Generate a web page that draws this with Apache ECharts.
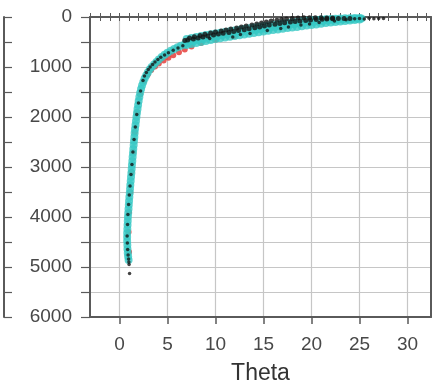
<!DOCTYPE html>
<html>
<head>
<meta charset="utf-8">
<script src="https://cdn.jsdelivr.net/npm/echarts@6/dist/echarts.min.js"></script>
<style>
  html, body { margin: 0; padding: 0; background: #fff; }
  #chart { width: 432px; height: 383px; }
</style>
</head>
<body>
<div id="chart"></div>
<script>
// Axis ranges and tick labels
const thetaMin = -3.07;
const thetaMax = 32.45;
const thetaLabels = [0, 5, 10, 15, 20, 25, 30];
const thetaMinorTicks = [-3, -2, -1, 0, 1, 2, 3, 4, 5, 6, 7, 8, 9, 10, 11, 12, 13, 14, 15, 16, 17, 18, 19, 20, 21, 22, 23, 24, 25, 26, 27, 28, 29, 30, 31, 32];
const depthLabels = [0, 1000, 2000, 3000, 4000, 5000, 6000];
const xName = 'Theta';

// Profile samples as [theta, depth]
const redProfile = [
  [1.0, 4700], [0.95, 4300], [1.0, 3900], [1.12, 3500], [1.25, 3100], [1.42, 2700],
  [1.6, 2300], [1.85, 1900], [2.15, 1550], [2.55, 1280], [2.95, 1150],
  [3.3, 1060], [3.7, 990], [4.1, 930], [4.6, 870], [5.1, 815], [5.6, 765],
  [6.2, 705], [6.8, 650], [7.5, 590], [8.5, 520], [10, 450], [12, 380]
];

const cyanProfile = [
  [0.95, 4860], [0.9, 4790], [0.86, 4720], [0.83, 4640], [0.82, 4560], [0.8, 4480],
  [0.8, 4400], [0.8, 4320], [0.82, 4240], [0.84, 4160], [0.86, 4080], [0.88, 4000],
  [0.91, 3920], [0.94, 3840], [0.97, 3760], [1.0, 3680], [1.03, 3600], [1.07, 3520],
  [1.1, 3440], [1.13, 3360], [1.17, 3280], [1.2, 3200], [1.24, 3120], [1.27, 3040],
  [1.3, 2960], [1.34, 2880], [1.37, 2800], [1.41, 2720], [1.44, 2640], [1.48, 2560],
  [1.51, 2480], [1.55, 2400], [1.58, 2320], [1.62, 2240], [1.67, 2160], [1.72, 2080],
  [1.77, 2000], [1.82, 1920], [1.88, 1840], [1.94, 1760], [2.0, 1680], [2.07, 1600],
  [2.15, 1520], [2.25, 1440], [2.35, 1370], [2.48, 1300], [2.62, 1230], [2.78, 1170],
  [2.95, 1110], [3.15, 1050], [3.35, 1000], [3.6, 950], [3.85, 900], [4.1, 850],
  [4.4, 800], [4.7, 755], [5.0, 715], [5.35, 675], [5.7, 640], [6.05, 605],
  [6.4, 575], [6.8, 545],
  // upper edge of the shallow branch
  [7, 440], [7.5, 420], [8, 400], [8.5, 380], [9, 360], [9.5, 345], [10, 330], [10.5, 315],
  [11, 300], [11.5, 285], [12, 270], [12.5, 255], [13, 240], [13.5, 225], [14, 210],
  [14.5, 195], [15, 180], [15.5, 168], [16, 155], [16.5, 142], [17, 130], [17.5, 118],
  [18, 105], [18.5, 95], [19, 85], [19.5, 75], [20, 65], [20.5, 58], [21, 50], [21.5, 44],
  [22, 38], [22.5, 34], [23, 30], [23.5, 27], [24, 25], [24.5, 22], [25, 20],
  // middle of the shallow branch
  [7.2, 510], [7.7, 485], [8.2, 460], [8.7, 440], [9.2, 420], [9.7, 400], [10.2, 385],
  [10.7, 365], [11.2, 350], [11.7, 335], [12.2, 320], [12.7, 305], [13.2, 290],
  [13.7, 272], [14.2, 258], [14.7, 240], [15.2, 228], [15.7, 212], [16.2, 200],
  [16.7, 185], [17.2, 172], [17.7, 158], [18.2, 145], [18.7, 132], [19.2, 120],
  [19.7, 108], [20.2, 98], [20.7, 88], [21.2, 80], [21.7, 70], [22.2, 62], [22.7, 55],
  [23.2, 48], [23.7, 42], [24.2, 38], [24.7, 34], [25.2, 30],
  // lower edge of the shallow branch
  [7, 560], [7.5, 540], [8, 520], [8.5, 500], [9, 480], [9.5, 460], [10, 440], [10.5, 425],
  [11, 410], [11.5, 395], [12, 380], [12.5, 365], [13, 350], [13.5, 335], [14, 320],
  [14.5, 305], [15, 290], [15.5, 275], [16, 260], [16.5, 248], [17, 235], [17.5, 222],
  [18, 210], [18.5, 198], [19, 185], [19.5, 172], [20, 160], [20.5, 148], [21, 135],
  [21.5, 122], [22, 110], [22.5, 100], [23, 90], [23.5, 80], [24, 70], [24.5, 60], [25, 50]
];

// Black samples along the deep limb (fine dots)
const blackDeep = [
  [1.05, 5130], [1.0, 4950], [0.98, 4900], [0.95, 4840], [0.9, 4760], [0.85, 4650],
  [0.82, 4520], [0.8, 4380], [0.84, 4150], [0.88, 3950], [0.95, 3750], [1.02, 3560],
  [1.1, 3380], [1.2, 3150], [1.3, 2950], [1.4, 2700], [1.52, 2450], [1.65, 2200],
  [1.8, 1950], [1.98, 1720], [2.2, 1480],
  [2.45, 1270], [2.6, 1180], [2.8, 1110], [3.0, 1050], [3.2, 1000], [3.45, 950],
  [3.7, 900], [4.0, 850], [4.3, 805], [4.7, 760], [5.1, 715], [5.6, 665], [6.1, 620],
  [6.6, 575],
  // scattered dots inside the shallow branch
  [11.8, 400], [13.6, 330], [15.4, 270], [16.8, 230], [18.9, 160], [20.8, 110],
  [22.4, 80], [23.6, 55], [9.4, 430], [12.6, 350], [17.6, 200], [19.8, 140],
  // shallow tail
  [24.5, 35], [25, 30], [25.5, 40], [26, 25], [26.5, 35], [27, 30], [27.5, 28]
];

// Black samples along the upper edge of the shallow branch (coarser dots)
const blackShallow = [
  [6.8, 470], [7.3, 420], [7.8, 395], [8.4, 372], [8.9, 345], [9.5, 318], [10, 298],
  [10.6, 280], [11.1, 262], [11.6, 240], [12.2, 222], [12.7, 200], [13.2, 182],
  [13.8, 160], [14.3, 138], [14.8, 118], [15.3, 100], [15.8, 82], [16.4, 64],
  [16.9, 50], [17.4, 38], [18, 28], [18.6, 20], [19.2, 16], [19.8, 14], [20.4, 14],
  [21, 15], [21.6, 18], [22.2, 22],
  [7.1, 460], [7.7, 440], [8.2, 418], [8.7, 400], [9.2, 380], [9.8, 360], [10.3, 342],
  [10.8, 325], [11.4, 308], [11.9, 290], [12.4, 272], [13, 255], [13.5, 236],
  [14.1, 216], [14.6, 198], [15.1, 180], [15.6, 162], [16.2, 146], [16.7, 130],
  [17.2, 116], [17.8, 102], [18.3, 90], [18.8, 80], [19.4, 70], [19.9, 60],
  [20.5, 52], [21.1, 46], [21.6, 40], [22.2, 36], [22.8, 32], [23.4, 30], [24, 30]
];

const axisColor = '#5a5a5a';
const gridColor = '#c6c6c6';
const labelColor = '#484848';
const fontFamily = 'Liberation Sans, Arial, sans-serif';
const plainNumber = (v) => String(v);

const chart = echarts.init(document.getElementById('chart'), null, { renderer: 'canvas' });

chart.setOption({
  backgroundColor: '#fff',
  animation: false,
  grid: { left: 90, right: 1, top: 17, bottom: 66, containLabel: false, outerBoundsMode: 'none' },
  xAxis: [
    {
      type: 'value', position: 'bottom', min: thetaMin, max: thetaMax,
      name: xName, nameLocation: 'middle', nameGap: 45, nameMoveOverlap: false,
      nameTextStyle: { fontSize: 23, color: '#333', fontFamily: fontFamily },
      axisLine: { show: true, onZero: false, lineStyle: { color: axisColor, width: 2 } },
      axisTick: { show: true, customValues: thetaLabels, length: 7, lineStyle: { color: axisColor, width: 1.5 } },
      axisLabel: { show: true, customValues: thetaLabels, formatter: plainNumber, fontSize: 19, color: labelColor, margin: 18, fontFamily: fontFamily },
      splitLine: { show: true, lineStyle: { color: gridColor, width: 1.2 } }
    },
    {
      type: 'value', position: 'bottom', min: thetaMin, max: thetaMax,
      axisLine: { show: false },
      axisTick: { show: true, customValues: thetaMinorTicks, length: 4, lineStyle: { color: axisColor, width: 1 } },
      axisLabel: { show: false },
      splitLine: { show: false }
    },
    {
      type: 'value', position: 'top', min: thetaMin, max: thetaMax,
      axisLine: { show: true, onZero: false, lineStyle: { color: axisColor, width: 2 } },
      axisTick: { show: true, customValues: thetaMinorTicks, length: 4, lineStyle: { color: axisColor, width: 1 } },
      axisLabel: { show: false },
      splitLine: { show: false }
    }
  ],
  yAxis: [
    {
      type: 'value', position: 'left', inverse: true, min: 0, max: 6000, interval: 500,
      axisLine: { show: true, onZero: false, lineStyle: { color: axisColor, width: 2 } },
      axisTick: { show: true, length: 9, lineStyle: { color: axisColor, width: 1.2 } },
      axisLabel: { show: true, customValues: depthLabels, formatter: plainNumber, fontSize: 19, color: labelColor, margin: 18, fontFamily: fontFamily },
      splitLine: { show: true, lineStyle: { color: gridColor, width: 1.2 } }
    },
    {
      type: 'value', position: 'right', inverse: true, min: 0, max: 6000, interval: 500,
      axisLine: { show: true, onZero: false, lineStyle: { color: axisColor, width: 2 } },
      axisTick: { show: false },
      axisLabel: { show: false },
      splitLine: { show: false }
    },
    {
      type: 'value', position: 'left', offset: 86, inverse: true, min: 0, max: 6000, interval: 500,
      axisLine: { show: true, onZero: false, lineStyle: { color: axisColor, width: 2 } },
      axisTick: { show: true, inside: true, length: 8, lineStyle: { color: axisColor, width: 1.2 } },
      axisLabel: { show: false },
      splitLine: { show: false }
    }
  ],
  series: [
    {
      type: 'scatter', xAxisIndex: 0, yAxisIndex: 0, data: redProfile,
      symbol: 'circle', symbolSize: 6, itemStyle: { color: '#e5322e' }, silent: true
    },
    {
      type: 'scatter', xAxisIndex: 0, yAxisIndex: 0, data: cyanProfile,
      symbol: 'circle', symbolSize: 8, itemStyle: { color: '#36c8c4' }, silent: true
    },
    {
      type: 'scatter', xAxisIndex: 0, yAxisIndex: 0, data: blackShallow,
      symbol: 'circle', symbolSize: 5, itemStyle: { color: '#141414' }, silent: true
    },
    {
      type: 'scatter', xAxisIndex: 0, yAxisIndex: 0, data: blackDeep,
      symbol: 'circle', symbolSize: 3.5, itemStyle: { color: '#141414' }, silent: true
    }
  ]
});
</script>
</body>
</html>
